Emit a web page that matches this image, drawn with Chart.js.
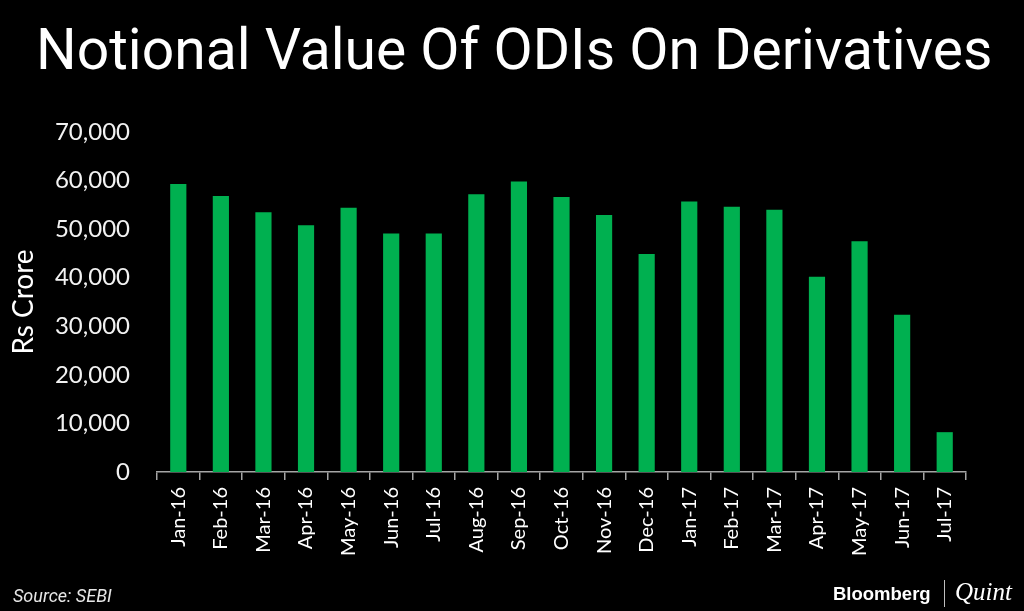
<!DOCTYPE html>
<html>
<head>
<meta charset="utf-8">
<script src="https://cdn.jsdelivr.net/npm/chart.js@4"></script>
<style>
  body { margin: 0; background: #000; }
  #wrap { position: relative; width: 1024px; height: 611px; background: #000; overflow: hidden; }
  #chart { position: absolute; left: 0; top: 0; }
  .txt { position: absolute; color: #fff; white-space: nowrap; }
  #title { left: 36px; top: 21px; font: 400 57px/57px Roboto, sans-serif; }
  #source { left: 13px; top: 587px; font: italic 400 18px/18px Roboto, sans-serif; color: #e6e6e6; }
  #bloom { left: 833px; top: 585px; font: 700 18.5px/18px "Liberation Sans", Arial, sans-serif; }
  #divider { position: absolute; left: 944px; top: 580px; width: 1px; height: 27px; background: #bfbfbf; }
  #quint { left: 955px; top: 579px; font: italic 400 25px/25px "Liberation Serif", serif; }
</style>
</head>
<body>
<div id="wrap">
  <canvas id="chart" width="1024" height="611"></canvas>
  <div class="txt" id="title">Notional Value Of ODIs On Derivatives</div>
  <div class="txt" id="source">Source: SEBI</div>
  <div class="txt" id="bloom">Bloomberg</div>
  <div id="divider"></div>
  <div class="txt" id="quint">Quint</div>
</div>
<script>
// months shown on the x axis
const months = ['Jan-16', 'Feb-16', 'Mar-16', 'Apr-16', 'May-16', 'Jun-16', 'Jul-16', 'Aug-16', 'Sep-16',
    'Oct-16', 'Nov-16', 'Dec-16', 'Jan-17', 'Feb-17', 'Mar-17', 'Apr-17', 'May-17', 'Jun-17', 'Jul-17'];

// notional value, Rs crore
const notionalValue = [59300, 56800, 53500, 50800, 54400, 49100, 49100, 57200, 59800,
    56600, 52900, 44900, 55700, 54600, 54000, 40200, 47500, 32400, 8200];

const yMin = 0;
const yMax = 70000;
const yStep = 10000;

const ctx = document.getElementById('chart').getContext('2d');
new Chart(ctx, {
    type: 'bar',
    data: {
        labels: months,
        datasets: [{
            label: 'Notional Value',
            data: notionalValue,
            backgroundColor: '#00b050',
            borderWidth: 0,
            categoryPercentage: 1,
            barPercentage: 0.38
        }]
    },
    options: {
        responsive: false,
        animation: false,
        layout: { padding: { top: 132, right: 58, bottom: 0, left: 0 } },
        plugins: {
            legend: { display: false },
            tooltip: { enabled: false }
        },
        scales: {
            x: {
                grid: {
                    display: true,
                    drawOnChartArea: false,
                    drawTicks: true,
                    tickLength: 8,
                    color: '#a6a6a6',
                    lineWidth: 1.5
                },
                border: { display: true, color: '#a6a6a6', width: 1.5 },
                ticks: {
                    color: '#ffffff',
                    font: { family: 'Lato', size: 20 },
                    minRotation: 90,
                    maxRotation: 90,
                    padding: 7,
                    autoSkip: false
                },
                afterFit: scale => {
                    scale.height = 139;
                    scale.paddingLeft = 0;
                    scale.paddingRight = 0;
                }
            },
            y: {
                min: yMin,
                max: yMax,
                grid: { display: false, drawTicks: false },
                border: { display: false },
                ticks: {
                    stepSize: yStep,
                    color: '#f2f2f2',
                    font: { family: 'Lato', size: 24 },
                    padding: 27,
                    callback: v => v.toLocaleString('en-US')
                },
                title: {
                    display: true,
                    text: 'Rs Crore',
                    color: '#ffffff',
                    font: { family: 'Lato', size: 28 },
                    padding: { top: 7, bottom: 0 }
                },
                afterFit: scale => { scale.width = 157; }
            }
        }
    }
});
</script>
</body>
</html>
